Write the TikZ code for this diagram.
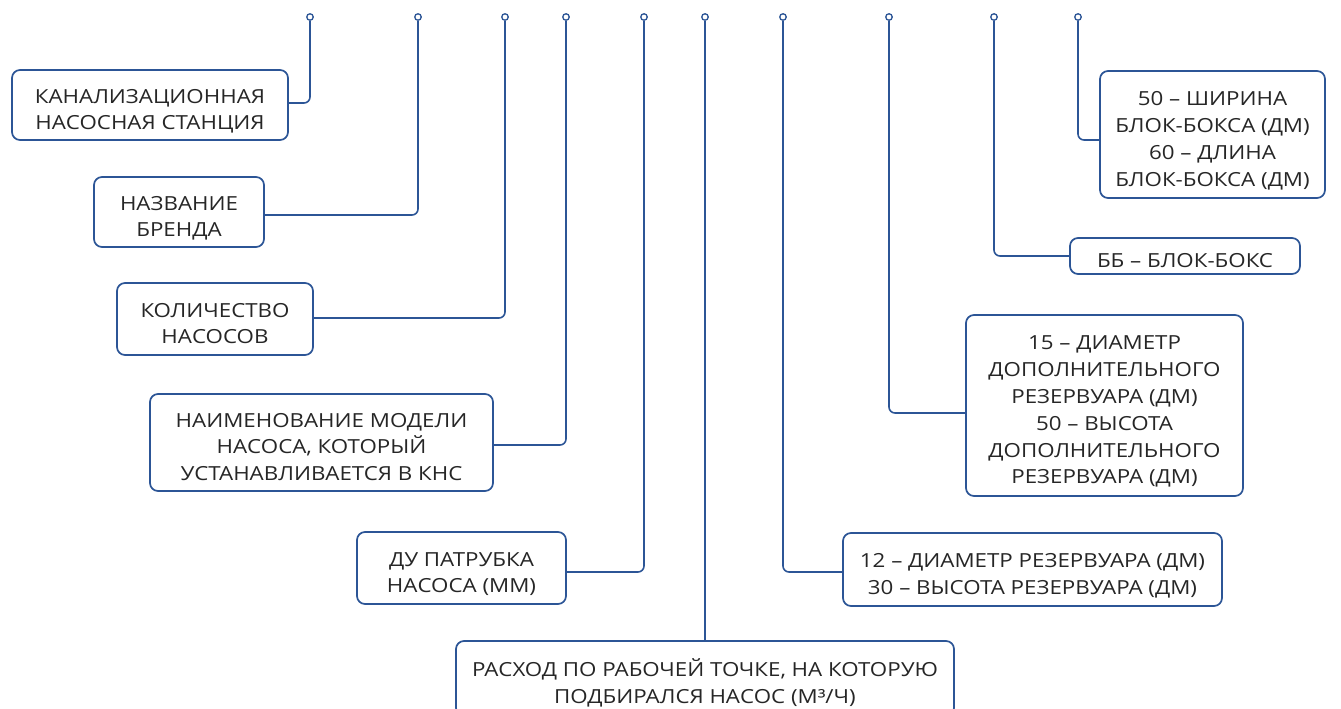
\documentclass[tikz,border=0pt]{standalone}
\usepackage{fontspec}
\setmainfont{Open Sans}[FakeStretch=1.15]
\definecolor{lblue}{HTML}{2C5596}
\definecolor{tgray}{HTML}{262626}
\newcommand\tstr{\rule{0pt}{28.9pt}}
\newcommand\bstr{\rule[-6pt]{0pt}{6pt}}
\begin{document}
\begin{tikzpicture}[x=1pt,y=-1pt,
  lbox/.style={draw=lblue, line width=1.7pt, rounded corners=8pt, fill=white,
    align=center, inner xsep=4pt, inner ysep=0pt, text=tgray,
    font=\fontsize{19.4pt}{26.8pt}\selectfont},
  dotpin/.style={circle, draw=lblue, fill=white, line width=1.3pt, minimum size=6.5pt, inner sep=0pt},
  conn/.style={draw=lblue, line width=1.6pt, rounded corners=6pt}]
\path[use as bounding box] (0,0) rectangle (1341,709);
\clip (0,0) rectangle (1341,709);
% boxes
\node[lbox, minimum width=276pt, minimum height=70pt] (b1) at (150,105) {\tstr КАНАЛИЗАЦИОННАЯ\\НАСОСНАЯ СТАНЦИЯ\bstr};
\node[lbox, minimum width=170pt, minimum height=70pt] (b2) at (179,212) {\tstr НАЗВАНИЕ\\БРЕНДА\bstr};
\node[lbox, minimum width=196pt, minimum height=72pt] (b3) at (215,319) {\tstr КОЛИЧЕСТВО\\НАСОСОВ\bstr};
\node[lbox, minimum width=343pt, minimum height=97pt] (b4) at (321.5,442.5) {\tstr НАИМЕНОВАНИЕ МОДЕЛИ\\НАСОСА, КОТОРЫЙ\\УСТАНАВЛИВАЕТСЯ В КНС\bstr};
\node[lbox, minimum width=209pt, minimum height=72pt] (b5) at (461.5,568) {\tstr ДУ ПАТРУБКА\\НАСОСА (ММ)\bstr};
\node[lbox, minimum width=498pt, minimum height=75pt] (b6) at (705,678.5) {\tstr РАСХОД ПО РАБОЧЕЙ ТОЧКЕ, НА КОТОРУЮ\\ПОДБИРАЛСЯ НАСОС (М³/Ч)\bstr};
\node[lbox, minimum width=379pt, minimum height=73pt] (b7) at (1032.5,569.5) {\tstr 12 – ДИАМЕТР РЕЗЕРВУАРА (ДМ)\\30 – ВЫСОТА РЕЗЕРВУАРА (ДМ)\bstr};
\node[lbox, minimum width=277pt, minimum height=181pt] (b8) at (1104.5,405.5) {\tstr 15 – ДИАМЕТР\\ДОПОЛНИТЕЛЬНОГО\\РЕЗЕРВУАРА (ДМ)\\50 – ВЫСОТА\\ДОПОЛНИТЕЛЬНОГО\\РЕЗЕРВУАРА (ДМ)\bstr};
\node[lbox, minimum width=230pt, minimum height=36pt] (b9) at (1185,256) {\tstr ББ – БЛОК-БОКС\bstr};
\node[lbox, minimum width=225pt, minimum height=127pt] (b10) at (1212.5,134.5) {\tstr 50 – ШИРИНА\\БЛОК-БОКСА (ДМ)\\60 – ДЛИНА\\БЛОК-БОКСА (ДМ)\bstr};
% pins
\node[dotpin] (d1) at (310,17) {};
\node[dotpin] (d2) at (418,17) {};
\node[dotpin] (d3) at (505,17) {};
\node[dotpin] (d4) at (566,17) {};
\node[dotpin] (d5) at (644,17) {};
\node[dotpin] (d6) at (705,17) {};
\node[dotpin] (d7) at (783,17) {};
\node[dotpin] (d8) at (889,17) {};
\node[dotpin] (d9) at (994,17) {};
\node[dotpin] (d10) at (1078,17) {};
% connectors
\draw[conn] (d1.south) |- ([yshift=2pt]b1.east);
\draw[conn] (d2.south) |- ([yshift=-3pt]b2.east);
\draw[conn] (d3.south) |- ([yshift=1pt]b3.east);
\draw[conn] (d4.south) |- ([yshift=-2.5pt]b4.east);
\draw[conn] (d5.south) |- ([yshift=-4pt]b5.east);
\draw[conn] (d6.south) -- (b6.north);
\draw[conn] (d7.south) |- ([yshift=-2.5pt]b7.west);
\draw[conn] (d8.south) |- ([yshift=-7.5pt]b8.west);
\draw[conn] (d9.south) |- (b9.west);
\draw[conn] (d10.south) |- ([yshift=-5.5pt]b10.west);
\end{tikzpicture}
\end{document}
